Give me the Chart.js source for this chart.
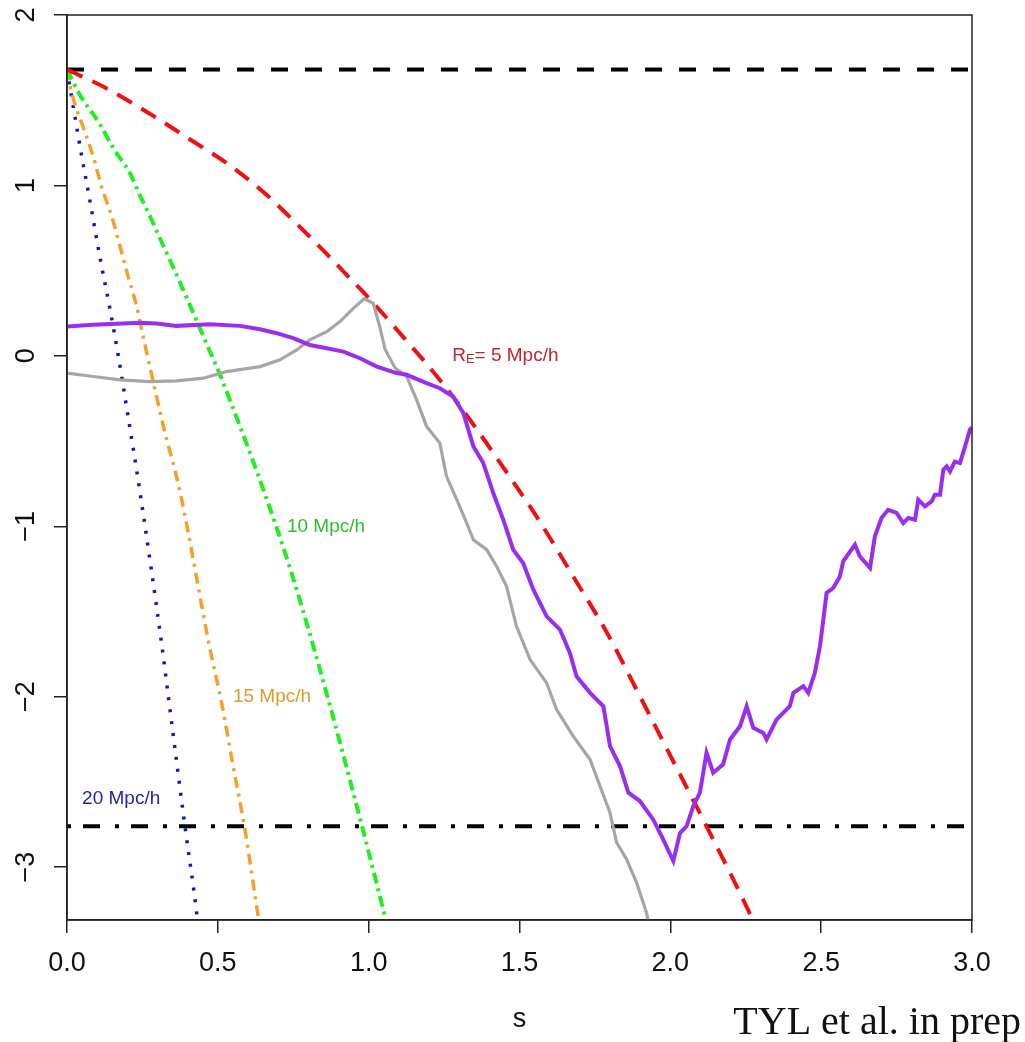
<!DOCTYPE html>
<html><head><meta charset="utf-8">
<script src="https://cdn.jsdelivr.net/npm/chart.js@4.4.1/dist/chart.umd.min.js"></script>
<style>html,body{margin:0;padding:0;background:#fff;} #wrap{width:1025px;height:1042px;position:relative;}</style>
</head><body><div id="wrap"><canvas id="c" width="1025" height="1042"></canvas></div>
<script>
// ---------- axis ticks ----------
const xTickValues = [0, 0.5, 1, 1.5, 2, 2.5, 3];
const xTickLabels = ['0.0', '0.5', '1.0', '1.5', '2.0', '2.5', '3.0'];
const yTickValues = [-3, -2, -1, 0, 1, 2];
const yTickLabels = ['\u22123', '\u22122', '\u22121', '0', '1', '2'];
const xTitle = 's';
const creditText = 'TYL et al. in prep';

// ---------- threshold lines ----------
const hLineS = [0, 3];
const collapseLine = [1.68, 1.68];
const voidLine = [-2.76, -2.76];

// ---------- theory curves ----------
const redS = [0, 0.12, 0.275, 0.42, 0.53, 0.65, 0.77, 0.86, 0.93, 1.0, 1.12, 1.24, 1.35, 1.46, 1.57, 1.68, 1.79, 1.90, 2.01, 2.12, 2.26, 2.275];
const redDelta = [1.68, 1.58, 1.42, 1.256, 1.13, 0.963, 0.76, 0.60, 0.47, 0.34, 0.10, -0.15, -0.41, -0.69, -0.98, -1.30, -1.625, -2.0, -2.38, -2.76, -3.26, -3.32];

const greenS = [0, 0.043, 0.109, 0.153, 0.209, 0.242, 0.275, 0.308, 0.352, 0.397, 0.441, 0.485, 0.507, 0.579, 0.662, 0.74, 0.816, 0.899, 0.975, 1.057];
const greenDelta = [1.68, 1.53, 1.36, 1.22, 1.07, 0.94, 0.82, 0.69, 0.52, 0.34, 0.16, -0.02, -0.11, -0.44, -0.84, -1.25, -1.70, -2.23, -2.74, -3.31];

const orangeS = [0, 0.016, 0.054, 0.087, 0.115, 0.148, 0.176, 0.203, 0.231, 0.253, 0.264, 0.297, 0.319, 0.375, 0.474, 0.513, 0.551, 0.59, 0.634, 0.637];
const orangeDelta = [1.68, 1.54, 1.34, 1.17, 0.99, 0.82, 0.64, 0.465, 0.29, 0.11, 0.02, -0.24, -0.41, -0.80, -1.72, -2.04, -2.41, -2.78, -3.29, -3.32];

const blueS = [0, 0.021, 0.049, 0.076, 0.109, 0.143, 0.17, 0.192, 0.242, 0.316, 0.336, 0.364, 0.391, 0.43, 0.433];
const blueDelta = [1.68, 1.46, 1.17, 0.91, 0.58, 0.27, 0.0, -0.24, -0.80, -1.72, -2.0, -2.39, -2.76, -3.27, -3.32];

// ---------- measured paths ----------
const purpleS = [
  0, 0.087, 0.242, 0.297, 0.363, 0.474, 0.573, 0.64, 0.695, 0.75,
  0.805, 0.861, 0.916, 0.971, 1.027, 1.093, 1.126, 1.192, 1.236, 1.28,
  1.314, 1.347, 1.38, 1.413, 1.446, 1.479, 1.512, 1.546, 1.59, 1.634,
  1.667, 1.689, 1.734, 1.778, 1.8, 1.833, 1.861, 1.899, 1.943, 1.971,
  2.01, 2.032, 2.054, 2.076, 2.098, 2.12, 2.142, 2.175, 2.198, 2.231,
  2.253, 2.275, 2.308, 2.319, 2.352, 2.396, 2.408, 2.441, 2.457, 2.479,
  2.496, 2.507, 2.518, 2.54, 2.562, 2.573, 2.612, 2.628, 2.662, 2.678,
  2.7, 2.722, 2.75, 2.772, 2.789, 2.811, 2.822, 2.844, 2.866, 2.877,
  2.894, 2.905, 2.916, 2.927, 2.943, 2.96, 2.977, 2.993, 3.0
];
const purpleDelta = [
  0.172, 0.182, 0.195, 0.19, 0.176, 0.186, 0.176, 0.156, 0.133, 0.104,
  0.064, 0.045, 0.025, -0.014, -0.063, -0.101, -0.111, -0.16, -0.19, -0.238,
  -0.336, -0.531, -0.629, -0.805, -0.961, -1.137, -1.215, -1.372, -1.528, -1.606,
  -1.743, -1.88, -1.977, -2.056, -2.29, -2.407, -2.563, -2.612, -2.72, -2.818,
  -2.964, -2.80, -2.759, -2.642, -2.563, -2.329, -2.446, -2.397, -2.251, -2.173,
  -2.056, -2.182, -2.212, -2.251, -2.134, -2.056, -1.977, -1.938, -1.977, -1.86,
  -1.704, -1.548, -1.391, -1.362, -1.294, -1.206, -1.108, -1.176, -1.245, -1.059,
  -0.951, -0.903, -0.922, -0.981, -0.951, -0.961, -0.844, -0.883, -0.854, -0.815,
  -0.815, -0.668, -0.649, -0.678, -0.62, -0.629, -0.531, -0.434, -0.42
];

const grayS = [
  0, 0.087, 0.176, 0.275, 0.363, 0.452, 0.529, 0.64, 0.706, 0.761,
  0.805, 0.861, 0.905, 0.949, 0.985, 1.015, 1.037, 1.054, 1.087, 1.126,
  1.159, 1.192, 1.236, 1.258, 1.292, 1.325, 1.347, 1.391, 1.424, 1.457,
  1.49, 1.535, 1.59, 1.623, 1.678, 1.734, 1.767, 1.8, 1.822, 1.855,
  1.888, 1.921, 1.927
];
const grayDelta = [
  -0.101, -0.121, -0.141, -0.151, -0.147, -0.131, -0.092, -0.063, -0.023, 0.035,
  0.094, 0.142, 0.201, 0.279, 0.335, 0.309, 0.17, 0.04, -0.07, -0.121,
  -0.258, -0.414, -0.512, -0.707, -0.844, -0.981, -1.079, -1.137, -1.235, -1.352,
  -1.587, -1.782, -1.919, -2.075, -2.231, -2.368, -2.525, -2.681, -2.856, -2.954,
  -3.091, -3.267, -3.32
];

// ---------- annotation texts ----------
const curveLabels = [
  { parts: [['R', 1, 0], ['E', 0.68, 4], ['= 5 Mpc/h', 1, 0]], s: 1.277, d: 0.0, color: '#C8232C' },
  { parts: [['10 Mpc/h', 1, 0]], s: 0.729, d: -1.0, color: '#2DBE2D' },
  { parts: [['15 Mpc/h', 1, 0]], s: 0.55, d: -2.0, color: '#E29A2E' },
  { parts: [['20 Mpc/h', 1, 0]], s: 0.05, d: -2.6, color: '#2424A8' }
];

const pts = (xs, ys) => xs.map((x, i) => ({ x: x, y: ys[i] }));
const SANS = "'Liberation Sans', Arial, Helvetica, sans-serif";

const framePlugin = {
  id: 'frame',
  afterDraw(chart) {
    const { ctx, chartArea: a, scales } = chart;
    ctx.save();
    ctx.strokeStyle = '#222';
    ctx.lineWidth = 1.5;
    ctx.strokeRect(a.left, a.top, a.right - a.left, a.bottom - a.top);
    const base = 19;
    ctx.textBaseline = 'middle';
    ctx.textAlign = 'left';
    curveLabels.forEach(l => {
      let x = scales.x.getPixelForValue(l.s);
      const y = scales.y.getPixelForValue(l.d);
      ctx.fillStyle = l.color;
      l.parts.forEach(p => {
        ctx.font = (base * p[1]) + 'px ' + SANS;
        ctx.fillText(p[0], x, y + p[2]);
        x += ctx.measureText(p[0]).width;
      });
    });
    ctx.fillStyle = '#111';
    ctx.font = "40px 'Liberation Serif', 'Times New Roman', serif";
    ctx.textAlign = 'right';
    ctx.textBaseline = 'alphabetic';
    ctx.fillText(creditText, 1021, 1034);
    ctx.restore();
  },
  beforeDraw(chart) {
    const { ctx } = chart;
    ctx.save();
    ctx.fillStyle = '#fff';
    ctx.fillRect(0, 0, chart.width, chart.height);
    ctx.restore();
  }
};

const lineDs = (data, color, width, dash, smooth) => ({
  data: data, borderColor: color, borderWidth: width, borderDash: dash,
  pointRadius: 0, fill: false, tension: 0,
  cubicInterpolationMode: smooth ? 'monotone' : 'default', borderCapStyle: 'butt'
});

new Chart(document.getElementById('c'), {
  type: 'line',
  data: {
    datasets: [
      lineDs(pts(purpleS, purpleDelta), '#9A2EEF', 4, [], false),
      lineDs(pts(grayS, grayDelta), '#A6A6A6', 3.2, [], false),
      lineDs(pts(redS, redDelta), '#EE1111', 4, [17, 11], true),
      lineDs(pts(greenS, greenDelta), '#22EE22', 4, [11, 5, 3, 5], true),
      lineDs(pts(orangeS, orangeDelta), '#F2A12A', 3.5, [11, 6, 3, 6], true),
      lineDs(pts(blueS, blueDelta), '#1515C8', 3.5, [3, 9], true),
      lineDs(pts(hLineS, collapseLine), '#000', 4, [17, 17], false),
      lineDs(pts(hLineS, voidLine), '#000', 4, [4, 12, 17, 15], false)
    ]
  },
  options: {
    responsive: false,
    animation: false,
    events: [],
    layout: { padding: { top: 15, right: 53, left: 0, bottom: 0 } },
    plugins: { legend: { display: false }, tooltip: { enabled: false } },
    scales: {
      x: {
        type: 'linear', min: 0, max: 3,
        afterBuildTicks: s => { s.ticks = xTickValues.map(v => ({ value: v })); },
        afterFit: s => { s.height = 122; s.paddingLeft = 0; s.paddingRight = 0; },
        ticks: { callback: (v, i) => xTickLabels[i], font: { size: 27, family: SANS }, color: '#111', padding: 14, maxRotation: 0, autoSkip: false },
        grid: { drawOnChartArea: false, drawTicks: true, tickLength: 13, color: '#222', lineWidth: 1.5 },
        border: { display: true, color: '#222', width: 1.5 },
        title: { display: true, text: xTitle, font: { size: 27, family: SANS }, color: '#111', padding: { top: 0, bottom: 6 } }
      },
      y: {
        type: 'linear', min: -3.31, max: 2,
        afterBuildTicks: s => { s.ticks = yTickValues.map(v => ({ value: v })); },
        afterFit: s => { s.width = 67; s.paddingTop = 0; s.paddingBottom = 0; },
        ticks: { callback: (v, i) => yTickLabels[i], font: { size: 27, family: SANS }, color: '#111', padding: 12, minRotation: 90, maxRotation: 90, crossAlign: 'center', autoSkip: false },
        grid: { drawOnChartArea: false, drawTicks: true, tickLength: 13, color: '#222', lineWidth: 1.5 },
        border: { display: true, color: '#222', width: 1.5 }
      }
    }
  },
  plugins: [framePlugin]
});
</script></body></html>
